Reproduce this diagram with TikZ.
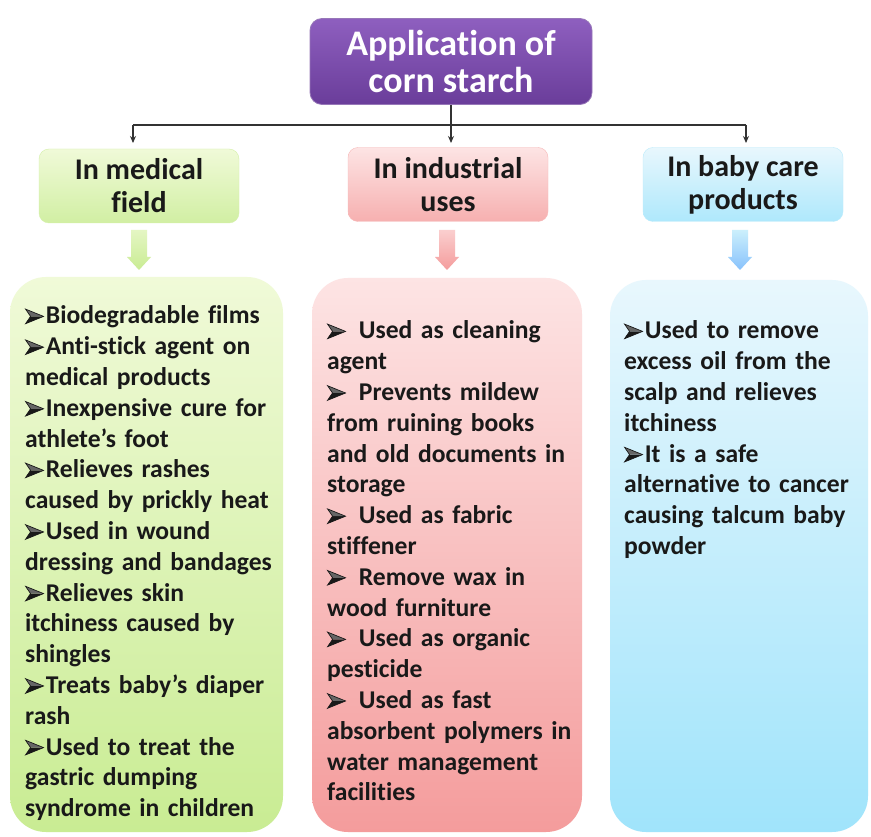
\documentclass[tikz,border=0pt]{standalone}
\usepackage{fontspec}
\setmainfont{Carlito}[Ligatures={NoCommon,NoContextual}]
\usetikzlibrary{arrows.meta}
\newcommand\bulglyph{\tikz[baseline=0pt,x=1pt,y=1pt]{%
  \fill[black!90] (0,0.3) -- (5,7.6) -- (18,7.6) -- cycle;
  \fill[black!60] (0,14.9) -- (5,7.6) -- (18,7.6) -- cycle;
  \draw[black!90, line width=0.7pt, line join=miter] (0,0.3) -- (5,7.6) -- (0,14.9) -- (18,7.6) -- cycle;}}
\newcommand\bul{\bulglyph\hspace{2pt}}
\newcommand\bulw{\bulglyph\hspace{13pt}}
\definecolor{purT}{HTML}{8E5FBF}
\definecolor{purB}{HTML}{6A3D9A}
\definecolor{grnT}{HTML}{F0FAD8}
\definecolor{grnB}{HTML}{C9EC93}
\definecolor{redT}{HTML}{FDE4E4}
\definecolor{redB}{HTML}{F49C9C}
\definecolor{bluT}{HTML}{E8F7FD}
\definecolor{bluB}{HTML}{A0E4FB}
\definecolor{lineC}{HTML}{333333}
\tikzset{
  titlebox/.style={rounded corners=12pt, draw=purB!70!white, line width=0.8pt, top color=purT, bottom color=purB,
    minimum width=282pt, minimum height=86pt, text=white, align=center,
    font=\fontsize{36}{37}\selectfont\bfseries},
  catbox/.style={rounded corners=10pt, minimum width=200pt, minimum height=74pt, align=center,
    font=\fontsize{30}{33}\selectfont\bfseries, text=black!90},
  bigbox/.style={rounded corners=36pt, draw=none},
  body/.style={anchor=base west, text width=300pt, align=left, inner sep=0pt,
    font=\fontsize{25.6}{30.8}\selectfont\bfseries, text=black!90},
  conn/.style={draw=lineC, line width=1.1pt},
  tip/.style={-{Stealth[length=7pt,width=6pt]}}
}
\newcommand\blockarrow[4]{% x, color top, color bottom, name
  \shade[top color=#2, bottom color=#3]
    (#1-8,230) -- (#1+8,230) -- (#1+8,257) -- (#1+12,257) -- (#1,270)
    -- (#1-12,257) -- (#1-8,257) -- cycle;
  \coordinate (#4) at (#1,250);}
\begin{document}
\begin{tikzpicture}[x=1pt,y=-1pt]
\useasboundingbox (0,0) rectangle (871,837);
\fill[white] (0,0) rectangle (871,837);

% big boxes
\node[bigbox, top color=grnT, bottom color=grnB, minimum width=273pt, minimum height=555pt] (gbig) at (146.5,554.5) {};
\node[bigbox, top color=redT, bottom color=redB, minimum width=270pt, minimum height=554pt] (rbig) at (447,555) {};
\node[bigbox, top color=bluT, bottom color=bluB, minimum width=258pt, minimum height=552pt] (bbig) at (739,556) {};

% title
\node[titlebox] (top) at (451,61.5) {Application of\\corn starch};

% categories
\node[catbox, top color=grnT, bottom color=grnB!85!white, draw=grnB!80!white] (med) at (139,186) {In medical\\field};
\node[catbox, top color=redT, bottom color=redB!80!white, draw=redB!70!white] (ind) at (448,184.5) {In industrial\\uses};
\node[catbox, top color=bluT, bottom color=bluB!85!white, draw=bluB!70!white] (baby) at (743,184.5) {In baby care\\products};

% connectors
\coordinate (hl) at (133,125);
\coordinate (hr) at (746,125);
\coordinate (tl) at (133,143);
\coordinate (tm) at (451,143);
\coordinate (tr) at (746,143);
\draw[conn] (hl) -- (hr);
\draw[conn, tip] (hl) -- (tl);
\draw[conn, tip] (hr) -- (tr);
\draw[conn, tip] (top.south) -- (tm);

% block arrows
\blockarrow{139}{grnT!70!grnB}{grnB}{ga}
\blockarrow{447}{redT!70!redB}{redB}{ra}
\blockarrow{740}{bluT!60!bluB}{bluB!85!blue}{ba}

% body texts
\node[body] (gtext) at (25,324) {\bul Biodegradable films\\
\bul Anti-stick agent on\\
medical products\\
\bul Inexpensive cure for\\
athlete’s foot\\
\bul Relieves rashes\\
caused by prickly heat\\
\bul Used in wound\\
dressing and bandages\\
\bul Relieves skin\\
itchiness caused by\\
shingles\\
\bul Treats baby’s diaper\\
rash\\
\bul Used to treat the\\
gastric dumping\\
syndrome in children};

\node[body] (rtext) at (327,339) {\bulw Used as cleaning\\
agent\\
\bulw Prevents mildew\\
from ruining books\\
and old documents in\\
storage\\
\bulw Used as fabric\\
stiffener\\
\bulw Remove wax in\\
wood furniture\\
\bulw Used as organic\\
pesticide\\
\bulw Used as fast\\
absorbent polymers in\\
water management\\
facilities};

\node[body] (btext) at (624,339) {\bul Used to remove\\
excess oil from the\\
scalp and relieves\\
itchiness\\
\bul It is a safe\\
alternative to cancer\\
causing talcum baby\\
powder};
\end{tikzpicture}
\end{document}
